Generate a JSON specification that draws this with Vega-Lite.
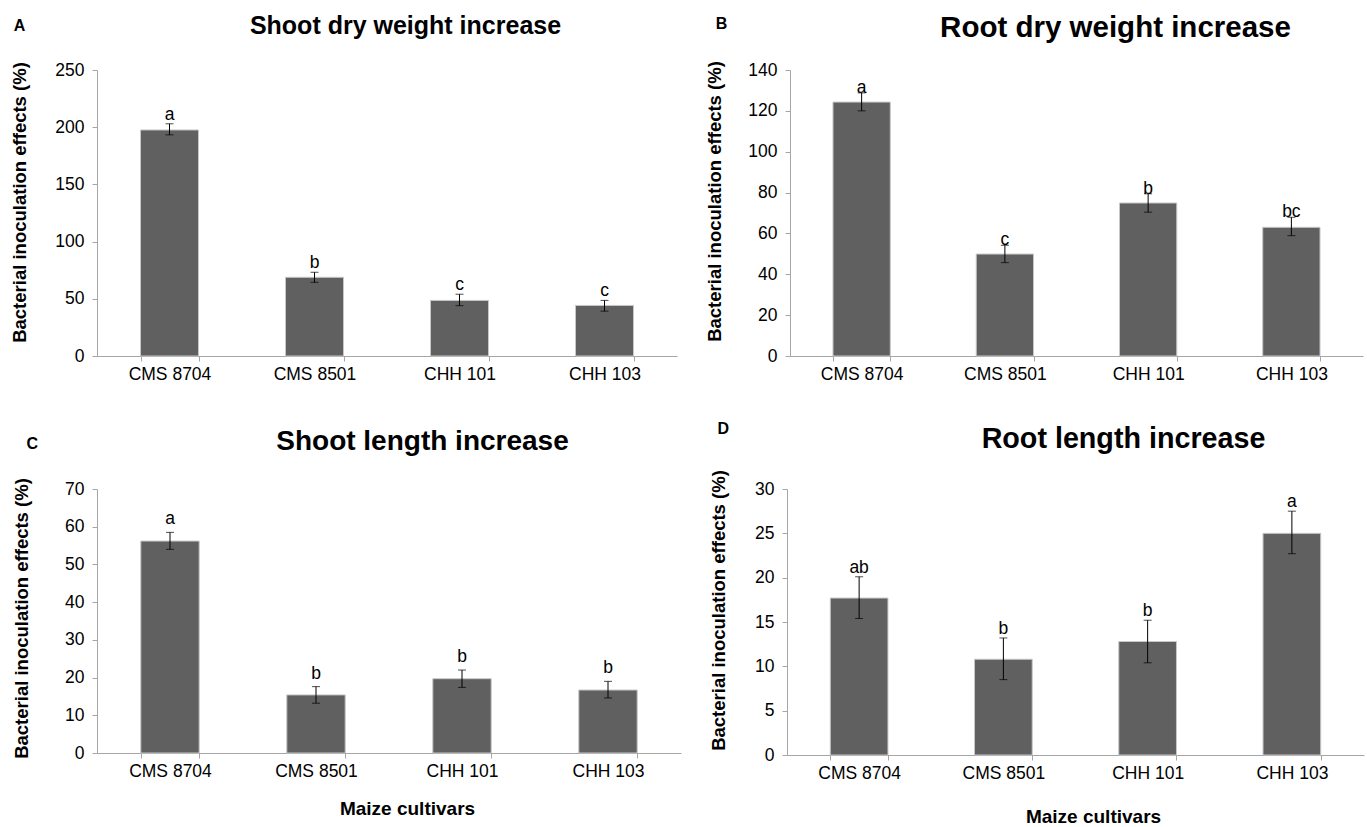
{
  "$schema": "https://vega.github.io/schema/vega-lite/v6.json",
  "padding": {"left": 10, "top": 12, "right": 2, "bottom": 0},
  "background": "white",
  "config": {
    "font": "Liberation Sans",
    "view": {"stroke": null},
    "axis": {
      "grid": false,
      "domainColor": "#a6a6a6",
      "tickColor": "#a6a6a6",
      "labelColor": "#000000",
      "labelFont": "Liberation Sans",
      "labelFontSize": 17.5,
      "labelOverlap": false,
      "titleFont": "Liberation Sans",
      "titleFontSize": 18.5,
      "titleFontWeight": "bold",
      "titleColor": "#000000"
    },
    "axisY": {"tickSize": 5, "labelPadding": 8, "titlePadding": 25},
    "axisX": {"tickSize": 5, "labelPadding": 4, "labelAngle": 0, "tickBand": "extent", "titlePadding": 20},
    "title": {"font": "Liberation Sans", "fontSize": 16, "fontWeight": "bold", "color": "#000000", "anchor": "start", "frame": "bounds"}
  },
  "datasets": {
    "shootDry": [
      {"cultivar": "CMS 8704", "effect": 197.6, "low": 193.3, "high": 203.0, "group": "a"},
      {"cultivar": "CMS 8501", "effect": 68.8, "low": 64.4, "high": 73.2, "group": "b"},
      {"cultivar": "CHH 101", "effect": 48.6, "low": 44.0, "high": 54.0, "group": "c"},
      {"cultivar": "CHH 103", "effect": 44.2, "low": 39.2, "high": 48.6, "group": "c"}
    ],
    "rootDry": [
      {"cultivar": "CMS 8704", "effect": 124.3, "low": 120.0, "high": 128.8, "group": "a"},
      {"cultivar": "CMS 8501", "effect": 49.9, "low": 45.7, "high": 54.2, "group": "c"},
      {"cultivar": "CHH 101", "effect": 74.9, "low": 70.4, "high": 79.4, "group": "b"},
      {"cultivar": "CHH 103", "effect": 63.0, "low": 58.9, "high": 67.9, "group": "bc"}
    ],
    "shootLength": [
      {"cultivar": "CMS 8704", "effect": 56.2, "low": 54.0, "high": 58.5, "group": "a"},
      {"cultivar": "CMS 8501", "effect": 15.4, "low": 13.2, "high": 17.6, "group": "b"},
      {"cultivar": "CHH 101", "effect": 19.7, "low": 17.4, "high": 22.0, "group": "b"},
      {"cultivar": "CHH 103", "effect": 16.7, "low": 14.6, "high": 19.0, "group": "b"}
    ],
    "rootLength": [
      {"cultivar": "CMS 8704", "effect": 17.7, "low": 15.4, "high": 20.1, "group": "ab"},
      {"cultivar": "CMS 8501", "effect": 10.8, "low": 8.5, "high": 13.2, "group": "b"},
      {"cultivar": "CHH 101", "effect": 12.8, "low": 10.4, "high": 15.2, "group": "b"},
      {"cultivar": "CHH 103", "effect": 25.0, "low": 22.7, "high": 27.5, "group": "a"}
    ]
  },
  "spacing": 38,
  "vconcat": [
    {
      "spacing": 28,
      "hconcat": [
        {
          "width": 580,
          "height": 286,
          "title": {"text": "A", "offset": -21, "dx": 3},
          "data": {"name": "shootDry"},
          "resolve": {"axis": {"x": "independent"}},
          "layer": [
            {
              "mark": {"type": "bar", "color": "#606060", "stroke": "#c8c8c8", "strokeWidth": 1},
              "encoding": {
                "x": {"field": "cultivar", "type": "nominal", "sort": null, "scale": {"paddingInner": 0.6, "paddingOuter": 0.3}, "axis": {"title": null}},
                "y": {"field": "effect", "type": "quantitative", "scale": {"domain": [0, 250], "nice": false}, "axis": {"values": [0, 50, 100, 150, 200, 250], "titleY": 132}, "title": "Bacterial inoculation effects (%)"}
              }
            },
            {
              "mark": {"type": "rule", "color": "#000000", "strokeWidth": 1},
              "encoding": {
                "x": {"field": "cultivar", "type": "nominal", "sort": null, "axis": {"orient": "top", "domain": false, "ticks": false, "labels": false, "title": "Shoot dry weight increase", "titleFontSize": 25, "titleX": 308, "titleY": -37, "titleAlign": "center", "titleBaseline": "alphabetic"}},
                "y": {"field": "low", "type": "quantitative", "axis": {"values": [0, 50, 100, 150, 200, 250], "titleY": 132}, "title": "Bacterial inoculation effects (%)"},
                "y2": {"field": "high"}
              }
            },
            {
              "mark": {"type": "tick", "color": "#000000", "size": 8, "thickness": 1},
              "encoding": {
                "x": {"field": "cultivar", "type": "nominal", "sort": null, "axis": null},
                "y": {"field": "low", "type": "quantitative", "axis": {"values": [0, 50, 100, 150, 200, 250], "titleY": 132}, "title": "Bacterial inoculation effects (%)"}
              }
            },
            {
              "mark": {"type": "tick", "color": "#000000", "size": 8, "thickness": 1},
              "encoding": {
                "x": {"field": "cultivar", "type": "nominal", "sort": null, "axis": null},
                "y": {"field": "high", "type": "quantitative", "axis": {"values": [0, 50, 100, 150, 200, 250], "titleY": 132}, "title": "Bacterial inoculation effects (%)"}
              }
            },
            {
              "mark": {"type": "text", "fontSize": 17.5, "baseline": "alphabetic", "dy": -4, "color": "#000000"},
              "encoding": {
                "x": {"field": "cultivar", "type": "nominal", "sort": null, "axis": null},
                "y": {"field": "high", "type": "quantitative", "axis": {"values": [0, 50, 100, 150, 200, 250], "titleY": 132}, "title": "Bacterial inoculation effects (%)"},
                "text": {"field": "group"}
              }
            }
          ]
        },
        {
          "width": 573,
          "height": 286,
          "title": {"text": "B", "offset": -20, "dx": 10},
          "data": {"name": "rootDry"},
          "resolve": {"axis": {"x": "independent"}},
          "layer": [
            {
              "mark": {"type": "bar", "color": "#606060", "stroke": "#c8c8c8", "strokeWidth": 1},
              "encoding": {
                "x": {"field": "cultivar", "type": "nominal", "sort": null, "scale": {"paddingInner": 0.6, "paddingOuter": 0.3}, "axis": {"title": null}},
                "y": {"field": "effect", "type": "quantitative", "scale": {"domain": [0, 140], "nice": false}, "axis": {"values": [0, 20, 40, 60, 80, 100, 120, 140], "titlePadding": 23, "titleY": 131}, "title": "Bacterial inoculation effects (%)"}
              }
            },
            {
              "mark": {"type": "rule", "color": "#000000", "strokeWidth": 1},
              "encoding": {
                "x": {"field": "cultivar", "type": "nominal", "sort": null, "axis": {"orient": "top", "domain": false, "ticks": false, "labels": false, "title": "Root dry weight  increase", "titleFontSize": 29.5, "titleX": 325, "titleY": -34, "titleAlign": "center", "titleBaseline": "alphabetic"}},
                "y": {"field": "low", "type": "quantitative", "axis": {"values": [0, 20, 40, 60, 80, 100, 120, 140], "titlePadding": 23, "titleY": 131}, "title": "Bacterial inoculation effects (%)"},
                "y2": {"field": "high"}
              }
            },
            {
              "mark": {"type": "tick", "color": "#000000", "size": 8, "thickness": 1},
              "encoding": {
                "x": {"field": "cultivar", "type": "nominal", "sort": null, "axis": null},
                "y": {"field": "low", "type": "quantitative", "axis": {"values": [0, 20, 40, 60, 80, 100, 120, 140], "titlePadding": 23, "titleY": 131}, "title": "Bacterial inoculation effects (%)"}
              }
            },
            {
              "mark": {"type": "tick", "color": "#000000", "size": 8, "thickness": 1},
              "encoding": {
                "x": {"field": "cultivar", "type": "nominal", "sort": null, "axis": null},
                "y": {"field": "high", "type": "quantitative", "axis": {"values": [0, 20, 40, 60, 80, 100, 120, 140], "titlePadding": 23, "titleY": 131}, "title": "Bacterial inoculation effects (%)"}
              }
            },
            {
              "mark": {"type": "text", "fontSize": 17.5, "baseline": "alphabetic", "dy": 0, "color": "#000000"},
              "encoding": {
                "x": {"field": "cultivar", "type": "nominal", "sort": null, "axis": null},
                "y": {"field": "high", "type": "quantitative", "axis": {"values": [0, 20, 40, 60, 80, 100, 120, 140], "titlePadding": 23, "titleY": 131}, "title": "Bacterial inoculation effects (%)"},
                "text": {"field": "group"}
              }
            }
          ]
        }
      ]
    },
    {
      "spacing": 28,
      "hconcat": [
        {
          "width": 584,
          "height": 264,
          "title": {"text": "C", "offset": -25, "dx": 14},
          "data": {"name": "shootLength"},
          "resolve": {"axis": {"x": "independent"}},
          "layer": [
            {
              "mark": {"type": "bar", "color": "#606060", "stroke": "#c8c8c8", "strokeWidth": 1},
              "encoding": {
                "x": {"field": "cultivar", "type": "nominal", "sort": null, "scale": {"paddingInner": 0.6, "paddingOuter": 0.3}, "axis": {"title": "Maize cultivars", "titleX": 310, "titleAlign": "center", "titleFontSize": 19}},
                "y": {"field": "effect", "type": "quantitative", "scale": {"domain": [0, 70], "nice": false}, "axis": {"values": [0, 10, 20, 30, 40, 50, 60, 70], "titlePadding": 33, "titleY": 129}, "title": "Bacterial inoculation effects (%)"}
              }
            },
            {
              "mark": {"type": "rule", "color": "#000000", "strokeWidth": 1},
              "encoding": {
                "x": {"field": "cultivar", "type": "nominal", "sort": null, "axis": {"orient": "top", "domain": false, "ticks": false, "labels": false, "title": "Shoot length increase", "titleFontSize": 28, "titleX": 325, "titleY": -40, "titleAlign": "center", "titleBaseline": "alphabetic"}},
                "y": {"field": "low", "type": "quantitative", "axis": {"values": [0, 10, 20, 30, 40, 50, 60, 70], "titlePadding": 33, "titleY": 129}, "title": "Bacterial inoculation effects (%)"},
                "y2": {"field": "high"}
              }
            },
            {
              "mark": {"type": "tick", "color": "#000000", "size": 8, "thickness": 1},
              "encoding": {
                "x": {"field": "cultivar", "type": "nominal", "sort": null, "axis": null},
                "y": {"field": "low", "type": "quantitative", "axis": {"values": [0, 10, 20, 30, 40, 50, 60, 70], "titlePadding": 33, "titleY": 129}, "title": "Bacterial inoculation effects (%)"}
              }
            },
            {
              "mark": {"type": "tick", "color": "#000000", "size": 8, "thickness": 1},
              "encoding": {
                "x": {"field": "cultivar", "type": "nominal", "sort": null, "axis": null},
                "y": {"field": "high", "type": "quantitative", "axis": {"values": [0, 10, 20, 30, 40, 50, 60, 70], "titlePadding": 33, "titleY": 129}, "title": "Bacterial inoculation effects (%)"}
              }
            },
            {
              "mark": {"type": "text", "fontSize": 17.5, "baseline": "alphabetic", "dy": -8, "color": "#000000"},
              "encoding": {
                "x": {"field": "cultivar", "type": "nominal", "sort": null, "axis": null},
                "y": {"field": "high", "type": "quantitative", "axis": {"values": [0, 10, 20, 30, 40, 50, 60, 70], "titlePadding": 33, "titleY": 129}, "title": "Bacterial inoculation effects (%)"},
                "text": {"field": "group"}
              }
            }
          ]
        },
        {
          "width": 577,
          "height": 266,
          "title": {"text": "D", "offset": -13, "dx": 8},
          "data": {"name": "rootLength"},
          "resolve": {"axis": {"x": "independent"}},
          "layer": [
            {
              "mark": {"type": "bar", "color": "#606060", "stroke": "#c8c8c8", "strokeWidth": 1},
              "encoding": {
                "x": {"field": "cultivar", "type": "nominal", "sort": null, "scale": {"paddingInner": 0.6, "paddingOuter": 0.3}, "axis": {"title": "Maize cultivars", "titlePadding": 26, "titleX": 306, "titleAlign": "center", "titleFontSize": 19}},
                "y": {"field": "effect", "type": "quantitative", "scale": {"domain": [0, 30], "nice": false}, "axis": {"values": [0, 5, 10, 15, 20, 25, 30], "titlePadding": 26, "titleY": 121}, "title": "Bacterial inoculation effects (%)"}
              }
            },
            {
              "mark": {"type": "rule", "color": "#000000", "strokeWidth": 1},
              "encoding": {
                "x": {"field": "cultivar", "type": "nominal", "sort": null, "axis": {"orient": "top", "domain": false, "ticks": false, "labels": false, "title": "Root length increase", "titleFontSize": 28.7, "titleX": 336, "titleY": -42, "titleAlign": "center", "titleBaseline": "alphabetic"}},
                "y": {"field": "low", "type": "quantitative", "axis": {"values": [0, 5, 10, 15, 20, 25, 30], "titlePadding": 26, "titleY": 121}, "title": "Bacterial inoculation effects (%)"},
                "y2": {"field": "high"}
              }
            },
            {
              "mark": {"type": "tick", "color": "#000000", "size": 8, "thickness": 1},
              "encoding": {
                "x": {"field": "cultivar", "type": "nominal", "sort": null, "axis": null},
                "y": {"field": "low", "type": "quantitative", "axis": {"values": [0, 5, 10, 15, 20, 25, 30], "titlePadding": 26, "titleY": 121}, "title": "Bacterial inoculation effects (%)"}
              }
            },
            {
              "mark": {"type": "tick", "color": "#000000", "size": 8, "thickness": 1},
              "encoding": {
                "x": {"field": "cultivar", "type": "nominal", "sort": null, "axis": null},
                "y": {"field": "high", "type": "quantitative", "axis": {"values": [0, 5, 10, 15, 20, 25, 30], "titlePadding": 26, "titleY": 121}, "title": "Bacterial inoculation effects (%)"}
              }
            },
            {
              "mark": {"type": "text", "fontSize": 17.5, "baseline": "alphabetic", "dy": -4, "color": "#000000"},
              "encoding": {
                "x": {"field": "cultivar", "type": "nominal", "sort": null, "axis": null},
                "y": {"field": "high", "type": "quantitative", "axis": {"values": [0, 5, 10, 15, 20, 25, 30], "titlePadding": 26, "titleY": 121}, "title": "Bacterial inoculation effects (%)"},
                "text": {"field": "group"}
              }
            }
          ]
        }
      ]
    }
  ]
}
